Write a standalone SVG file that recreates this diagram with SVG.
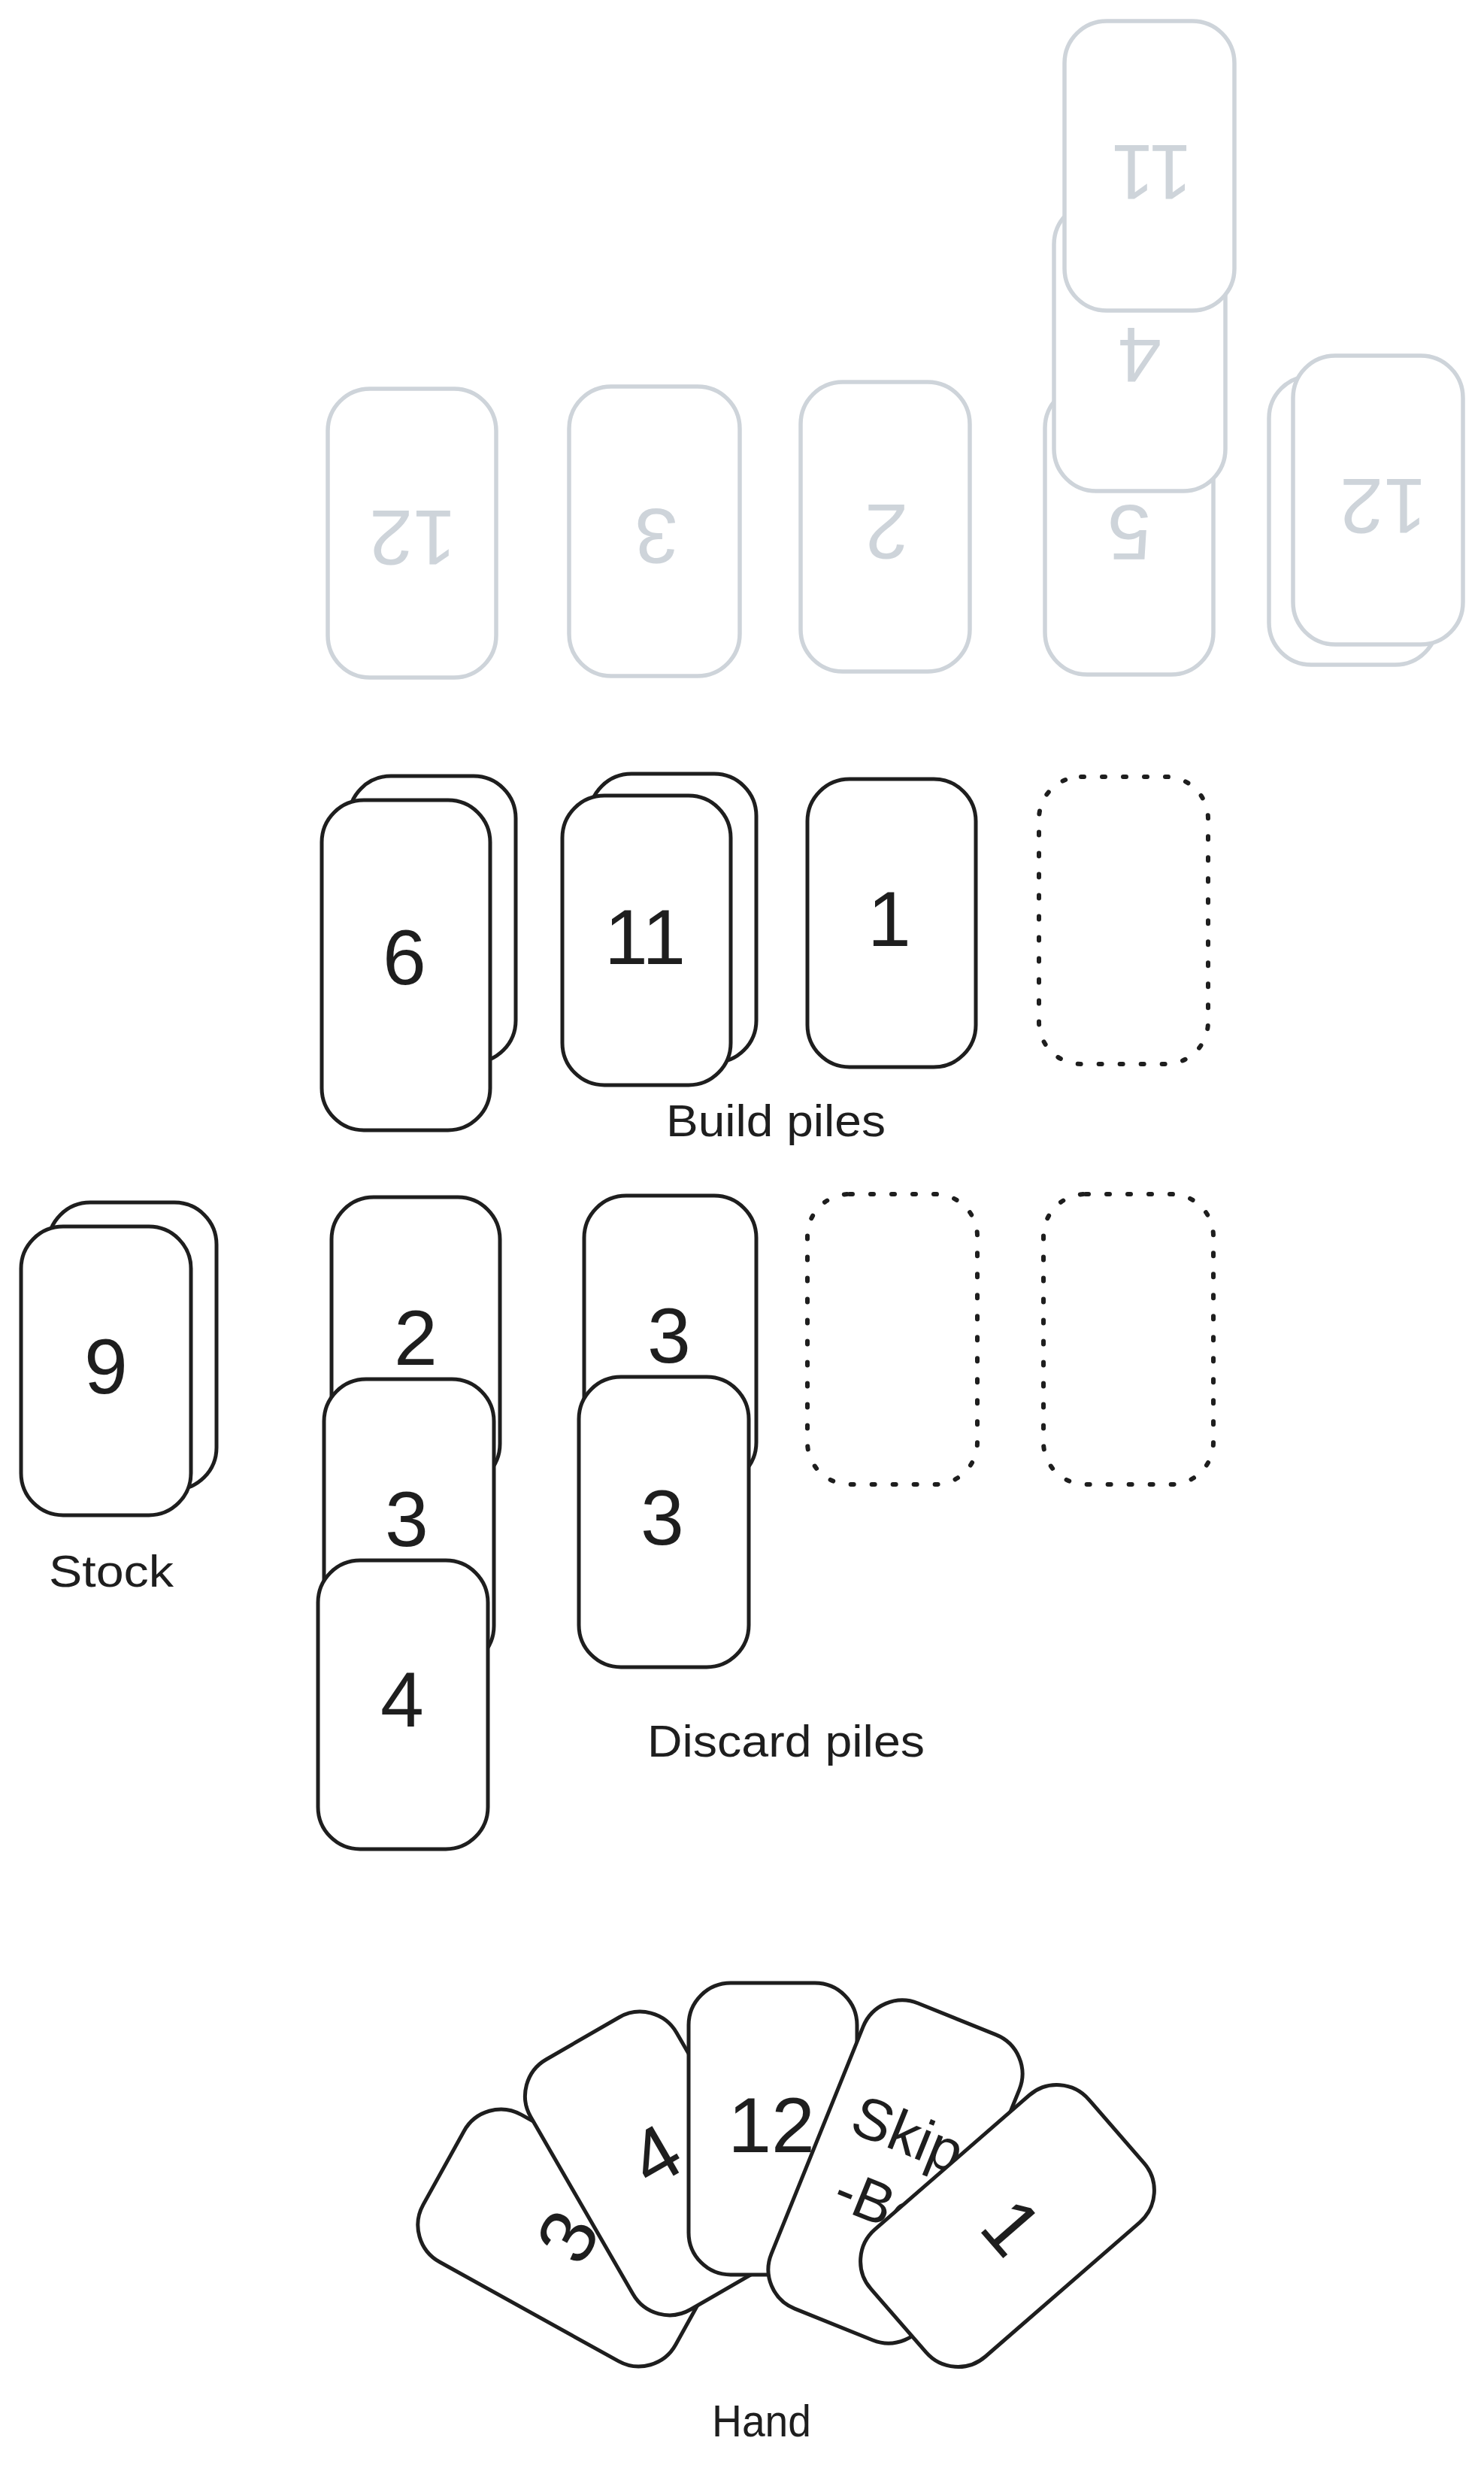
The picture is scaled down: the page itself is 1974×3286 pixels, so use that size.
<svg xmlns="http://www.w3.org/2000/svg" width="1974" height="3286" viewBox="0 0 1974 3286">
<style>
.card{fill:#ffffff;stroke:#1e1e1e;stroke-width:5;stroke-linejoin:round}
.gcard{fill:#ffffff;stroke:#ced4da;stroke-width:5.5;stroke-linejoin:round}
.dash{fill:none;stroke:#1e1e1e;stroke-width:6;stroke-dasharray:4 24;stroke-linecap:round}
.num{font-family:"Liberation Sans",Arial,sans-serif;font-size:104px;fill:#1e1e1e;text-anchor:middle}
.gnum{font-family:"Liberation Sans",Arial,sans-serif;font-size:104px;fill:#ced4da;text-anchor:middle}
.skip{font-family:"Liberation Sans",Arial,sans-serif;font-size:78px;fill:#1e1e1e;text-anchor:middle}
.label{font-family:"Liberation Sans",Arial,sans-serif;font-size:60px;fill:#1e1e1e;text-anchor:middle}
</style>
<rect width="1974" height="3286" fill="#ffffff"/>

<!-- Opponent (gray, upside down) -->
<g id="opp-build-12">
<rect class="gcard" x="436" y="517" width="224" height="384" rx="56"/>
<text class="gnum" x="549" y="754" transform="rotate(180 549 716.5)">12</text>
</g>
<g id="opp-build-3">
<rect class="gcard" x="757" y="514" width="227" height="385" rx="56"/>
<text class="gnum" x="873" y="752" transform="rotate(180 873 714.5)">3</text>
</g>
<g id="opp-build-2">
<rect class="gcard" x="1065" y="508" width="225" height="385" rx="56"/>
<text class="gnum" x="1179" y="745.5" transform="rotate(180 1179 708)">2</text>
</g>
<g id="opp-discard-5">
<rect class="gcard" x="1390" y="513" width="224" height="384" rx="56"/>
<text class="gnum" x="1502" y="746.5" transform="rotate(180 1502 709)">5</text>
</g>
<g id="opp-discard-4">
<rect class="gcard" x="1402" y="269" width="228" height="384" rx="56"/>
<text class="gnum" x="1516" y="510.5" transform="rotate(180 1516 473)">4</text>
</g>
<g id="opp-discard-11">
<rect class="gcard" x="1416" y="28" width="226" height="385" rx="56"/>
<text class="gnum" x="1532" y="267.5" transform="rotate(180 1532 230)">11</text>
</g>
<g id="opp-stock-12">
<rect class="gcard" x="1688" y="500" width="224" height="384" rx="56"/>
<rect class="gcard" x="1720" y="473" width="226" height="384" rx="56"/>
<text class="gnum" x="1840" y="711.5" transform="rotate(180 1840 674)">12</text>
</g>

<!-- Build piles -->
<g id="build-6">
<rect class="card" x="464" y="1032" width="222" height="381" rx="56"/>
<rect class="card" x="428" y="1064" width="224" height="439" rx="56"/>
<text class="num" x="538" y="1308.5">6</text>
</g>
<g id="build-11">
<rect class="card" x="784" y="1029" width="222" height="384" rx="56"/>
<rect class="card" x="748" y="1058" width="224" height="385" rx="56"/>
<text class="num" x="858" y="1281.5">11</text>
</g>
<g id="build-1">
<rect class="card" x="1074" y="1036" width="224" height="383" rx="56"/>
<text class="num" x="1183" y="1257.5">1</text>
</g>
<g id="build-empty">
<rect class="dash" x="1382" y="1033" width="225" height="382" rx="56"/>
</g>
<g id="label-build">
<text class="label" x="1032" y="1511" textLength="292" lengthAdjust="spacingAndGlyphs">Build piles</text>
</g>

<!-- Stock -->
<g id="stock">
<rect class="card" x="64" y="1599" width="224" height="382" rx="56"/>
<rect class="card" x="28" y="1631" width="226" height="384" rx="56"/>
<text class="num" x="141" y="1852.5">9</text>
</g>
<g id="label-stock">
<text class="label" x="148" y="2110" textLength="166" lengthAdjust="spacingAndGlyphs">Stock</text>
</g>

<!-- Discard piles -->
<g id="discard-1">
<rect class="card" x="441" y="1592" width="224" height="384" rx="56"/>
<text class="num" x="553" y="1815">2</text>
<rect class="card" x="431" y="1834" width="226" height="384" rx="56"/>
<text class="num" x="541" y="2055.5">3</text>
<rect class="card" x="423" y="2075" width="226" height="384" rx="56"/>
<text class="num" x="535" y="2295.5">4</text>
</g>
<g id="discard-2">
<rect class="card" x="777" y="1590" width="229" height="384" rx="56"/>
<text class="num" x="890" y="1812">3</text>
<rect class="card" x="770" y="1831" width="226" height="386" rx="56"/>
<text class="num" x="881" y="2054">3</text>
</g>
<g id="discard-3">
<rect class="dash" x="1074" y="1588" width="226" height="386" rx="56"/>
</g>
<g id="discard-4">
<rect class="dash" x="1388" y="1588" width="226" height="386" rx="56"/>
</g>
<g id="label-discard">
<text class="label" x="1045.5" y="2336" textLength="369" lengthAdjust="spacingAndGlyphs">Discard piles</text>
</g>

<!-- Hand -->
<g id="hand-3" transform="translate(758 2976) rotate(-61)">
<rect class="card" x="-112" y="-192" width="224" height="384" rx="56"/>
<text class="num" x="0" y="32.5">3</text>
</g>
<g id="hand-4" transform="translate(871 2877) rotate(-30)">
<rect class="card" x="-112" y="-192" width="224" height="384" rx="56"/>
<text class="num" x="6" y="26.5">4</text>
</g>
<g id="hand-12" transform="translate(1028 2831)">
<rect class="card" x="-112" y="-194" width="224" height="388" rx="56"/>
<text class="num" x="-2" y="30.5">12</text>
</g>
<g id="hand-skipbo" transform="translate(1191 2888) rotate(22)">
<rect class="card" x="-112" y="-219" width="224" height="438" rx="56"/>
<text class="skip" x="-3" y="-26">Skip</text>
<text class="skip" x="-3" y="74">-Bo</text>
</g>
<g id="hand-1" transform="translate(1340 2960) rotate(49)">
<rect class="card" x="-112" y="-192" width="224" height="384" rx="56"/>
<text class="num" x="5" y="32.5">1</text>
</g>
<g id="label-hand">
<text class="label" x="1013" y="3240" textLength="132" lengthAdjust="spacingAndGlyphs">Hand</text>
</g>

<g id="connectors"/>
</svg>
